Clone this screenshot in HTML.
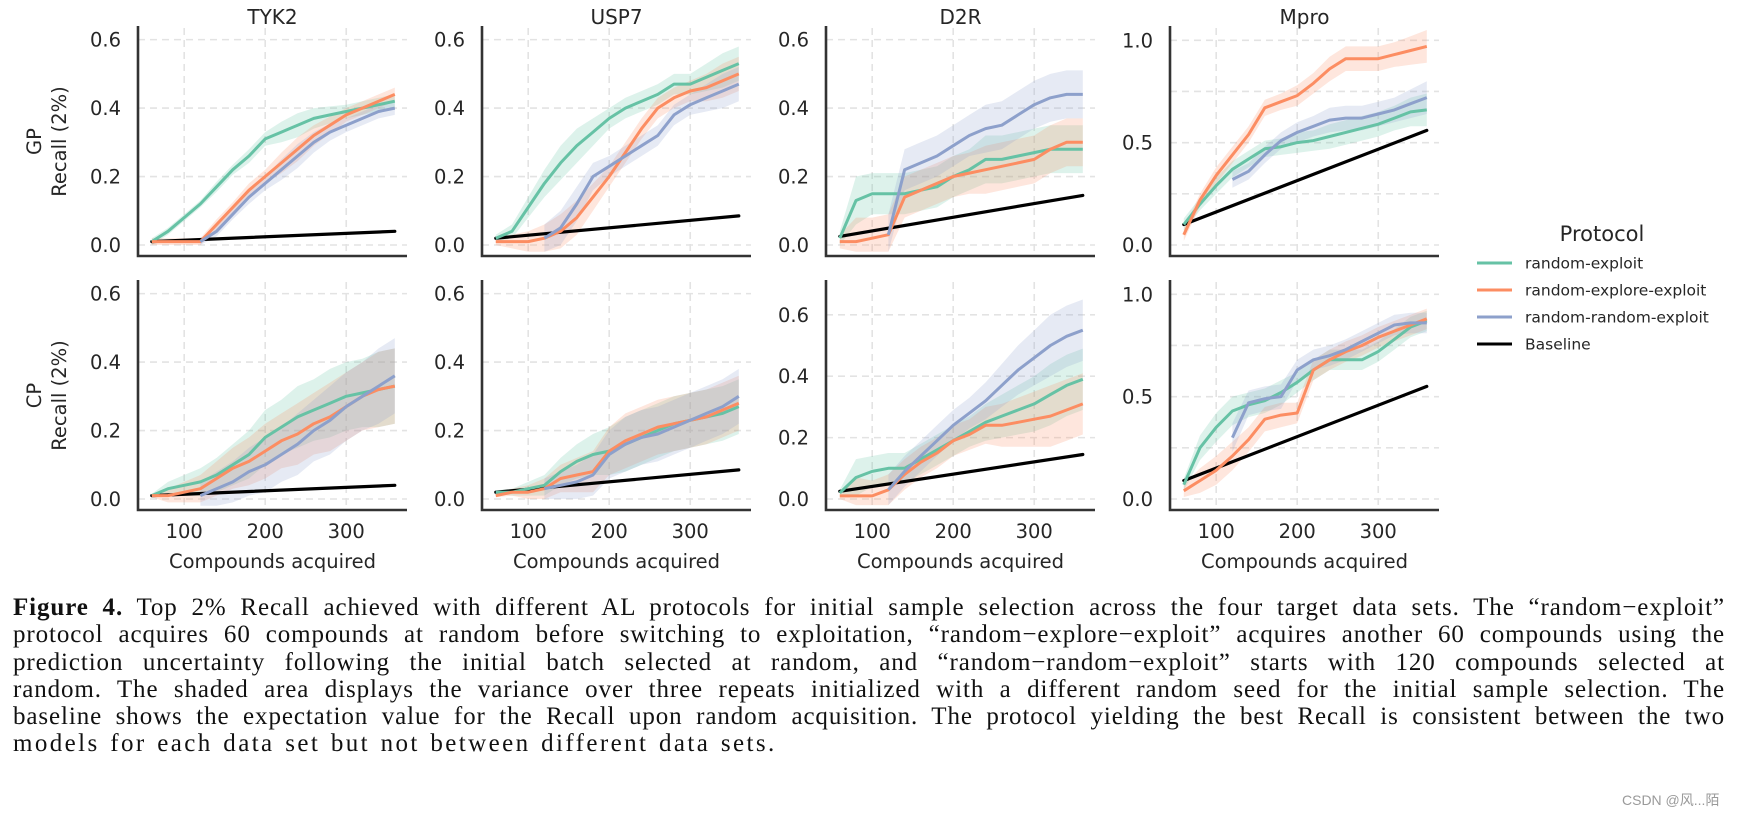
<!DOCTYPE html>
<html><head><meta charset="utf-8">
<style>
html,body{margin:0;padding:0;background:#fff;}
body{width:1740px;height:814px;position:relative;overflow:hidden;}
#chart{position:absolute;left:0;top:0;}
.cap{position:absolute;left:13px;width:1712px;font-family:"Liberation Serif",serif;font-size:25px;letter-spacing:0.9px;color:#111;white-space:nowrap;text-align:justify;text-align-last:justify;line-height:27px;}
.cap.last{text-align-last:left;letter-spacing:2.4px;word-spacing:2px;}
#wm{position:absolute;left:1622px;top:790px;font-family:"Liberation Sans","Noto Sans CJK SC",sans-serif;font-size:14px;color:#9a9a9a;}
</style></head><body>
<svg id="chart" width="1740" height="590" xmlns="http://www.w3.org/2000/svg" font-family="DejaVu Sans, sans-serif"></svg>

<div class="cap" style="top:594px"><b>Figure 4.</b> Top 2% Recall achieved with different AL protocols for initial sample selection across the four target data sets. The “random−exploit”</div>
<div class="cap" style="top:621px">protocol acquires 60 compounds at random before switching to exploitation, “random−explore−exploit” acquires another 60 compounds using the</div>
<div class="cap" style="top:649px">prediction uncertainty following the initial batch selected at random, and “random−random−exploit” starts with 120 compounds selected at</div>
<div class="cap" style="top:676px">random. The shaded area displays the variance over three repeats initialized with a different random seed for the initial sample selection. The</div>
<div class="cap" style="top:703px">baseline shows the expectation value for the Recall upon random acquisition. The protocol yielding the best Recall is consistent between the two</div>
<div class="cap last" style="top:730px">models for each data set but not between different data sets.</div>
<div id="wm">CSDN @风...陌</div>

<script>
// ---- data ----
const xs = [60,80,100,120,140,160,180,200,220,240,260,280,300,320,340,360];
const xsRR = [120,140,160,180,200,220,240,260,280,300,320,340,360];
const targets = ["TYK2","USP7","D2R","Mpro"];
const models = ["GP","CP"];
const xTicks = [100,200,300];
const yTicksSmall = [0,0.2,0.4,0.6];
const yTicksMpro = [0,0.5,1.0];
const seriesNames = ["random-exploit","random-explore-exploit","random-random-exploit","Baseline"];

// GP row
const tykGP_re  = [0.01,0.04,0.08,0.12,0.17,0.22,0.26,0.31,0.33,0.35,0.37,0.38,0.39,0.40,0.41,0.42];
const tykGP_ree = [0.01,0.01,0.01,0.01,0.06,0.11,0.16,0.20,0.24,0.28,0.32,0.35,0.38,0.40,0.42,0.44];
const tykGP_rre = [0.01,0.04,0.09,0.14,0.18,0.22,0.26,0.30,0.33,0.35,0.37,0.39,0.40];
const tykGP_sd  = [0.01,0.01,0.01,0.01,0.015,0.015,0.02,0.02,0.03,0.035,0.03,0.025,0.02,0.02,0.02,0.02];
const tykGP_base= [0.01,0.04];

const uspGP_re  = [0.02,0.04,0.11,0.18,0.24,0.29,0.33,0.37,0.40,0.42,0.44,0.47,0.47,0.49,0.51,0.53];
const uspGP_ree = [0.01,0.01,0.01,0.02,0.04,0.08,0.14,0.20,0.27,0.34,0.40,0.43,0.45,0.46,0.48,0.50];
const uspGP_rre = [0.02,0.05,0.12,0.20,0.23,0.26,0.29,0.32,0.38,0.41,0.43,0.45,0.47];
const uspGP_sd  = [0.01,0.02,0.03,0.04,0.05,0.05,0.04,0.03,0.03,0.03,0.03,0.03,0.03,0.04,0.05,0.05];
const uspGP_base= [0.02,0.085];

const d2GP_re  = [0.02,0.13,0.15,0.15,0.15,0.16,0.17,0.20,0.22,0.25,0.25,0.26,0.27,0.28,0.28,0.28];
const d2GP_ree = [0.01,0.01,0.02,0.03,0.14,0.16,0.18,0.20,0.21,0.22,0.23,0.24,0.25,0.28,0.30,0.30];
const d2GP_rre = [0.03,0.22,0.24,0.26,0.29,0.32,0.34,0.35,0.38,0.41,0.43,0.44,0.44];
const d2GP_sd  = [0.02,0.07,0.06,0.06,0.06,0.06,0.06,0.06,0.06,0.07,0.07,0.07,0.07,0.07,0.07,0.07];
const d2GP_base= [0.025,0.145];

const mpGP_re  = [0.10,0.20,0.29,0.37,0.42,0.47,0.48,0.50,0.51,0.53,0.55,0.57,0.59,0.62,0.65,0.66];
const mpGP_ree = [0.05,0.22,0.34,0.44,0.54,0.67,0.70,0.73,0.79,0.86,0.91,0.91,0.91,0.93,0.95,0.97];
const mpGP_rre = [0.32,0.36,0.44,0.51,0.55,0.58,0.61,0.62,0.62,0.64,0.66,0.69,0.72];
const mpGP_sd  = [0.03,0.03,0.04,0.04,0.04,0.04,0.04,0.05,0.05,0.06,0.06,0.06,0.06,0.06,0.07,0.08];
const mpGP_base= [0.10,0.56];

// CP row
const tykCP_re  = [0.01,0.03,0.04,0.05,0.07,0.10,0.13,0.18,0.21,0.24,0.26,0.28,0.30,0.31,0.32,0.33];
const tykCP_ree = [0.01,0.01,0.02,0.03,0.06,0.09,0.11,0.14,0.17,0.19,0.22,0.24,0.27,0.30,0.32,0.33];
const tykCP_rre = [0.01,0.03,0.05,0.08,0.10,0.13,0.16,0.20,0.23,0.27,0.30,0.33,0.36];
const tykCP_sd  = [0.005,0.02,0.03,0.04,0.05,0.06,0.07,0.08,0.08,0.09,0.09,0.10,0.10,0.10,0.11,0.11];
const tykCP_base= [0.01,0.04];

const uspCP_re  = [0.02,0.02,0.03,0.04,0.08,0.11,0.13,0.14,0.16,0.18,0.20,0.22,0.23,0.24,0.25,0.27];
const uspCP_ree = [0.01,0.02,0.02,0.03,0.06,0.07,0.08,0.14,0.17,0.19,0.21,0.22,0.23,0.24,0.26,0.28];
const uspCP_rre = [0.03,0.04,0.05,0.07,0.13,0.16,0.18,0.19,0.21,0.23,0.25,0.27,0.30];
const uspCP_sd  = [0.005,0.01,0.02,0.03,0.04,0.05,0.06,0.07,0.08,0.08,0.08,0.08,0.08,0.08,0.08,0.08];
const uspCP_base= [0.02,0.085];

const d2CP_re  = [0.02,0.07,0.09,0.10,0.10,0.13,0.16,0.19,0.22,0.25,0.27,0.29,0.31,0.34,0.37,0.39];
const d2CP_ree = [0.01,0.01,0.01,0.03,0.08,0.12,0.15,0.19,0.21,0.24,0.24,0.25,0.26,0.27,0.29,0.31];
const d2CP_rre = [0.03,0.09,0.14,0.19,0.24,0.28,0.32,0.37,0.42,0.46,0.50,0.53,0.55];
const d2CP_sd  = [0.01,0.06,0.05,0.05,0.05,0.05,0.05,0.05,0.05,0.06,0.07,0.08,0.09,0.10,0.10,0.10];
const d2CP_base= [0.025,0.145];

const mpCP_re  = [0.07,0.25,0.35,0.43,0.46,0.48,0.52,0.57,0.63,0.68,0.68,0.68,0.72,0.78,0.84,0.87];
const mpCP_ree = [0.04,0.09,0.14,0.21,0.29,0.39,0.41,0.42,0.63,0.68,0.72,0.75,0.79,0.82,0.85,0.88];
const mpCP_rre = [0.30,0.47,0.49,0.50,0.63,0.68,0.70,0.73,0.77,0.81,0.85,0.86,0.86];
const mpCP_sd  = [0.03,0.06,0.07,0.07,0.06,0.06,0.06,0.05,0.05,0.05,0.05,0.05,0.05,0.05,0.05,0.05];
const mpCP_base= [0.09,0.55];

const panelData = [
  [[tykGP_re,tykGP_ree,tykGP_rre,tykGP_sd,tykGP_base],[uspGP_re,uspGP_ree,uspGP_rre,uspGP_sd,uspGP_base],[d2GP_re,d2GP_ree,d2GP_rre,d2GP_sd,d2GP_base],[mpGP_re,mpGP_ree,mpGP_rre,mpGP_sd,mpGP_base]],
  [[tykCP_re,tykCP_ree,tykCP_rre,tykCP_sd,tykCP_base],[uspCP_re,uspCP_ree,uspCP_rre,uspCP_sd,uspCP_base],[d2CP_re,d2CP_ree,d2CP_rre,d2CP_sd,d2CP_base],[mpCP_re,mpCP_ree,mpCP_rre,mpCP_sd,mpCP_base]]
];
const panelYMax = [[0.634,0.634,0.634,1.06],[0.634,0.634,0.707,1.06]];

// ---- layout ----
const NS = "http://www.w3.org/2000/svg";
const svg = document.getElementById('chart');
const colors = ["#66c2a5","#fc8d62","#8da0cb","#000000"];
const spineX = [138,482,826,1170];
const plotW = 269;
const zeroY = [245,499];
const plotH = 217;
const XMIN = 43, XMAX = 375;

function mk(tag, attrs, parent){
  const e = document.createElementNS(NS, tag);
  for (const k in attrs) e.setAttribute(k, attrs[k]);
  (parent||svg).appendChild(e);
  return e;
}
function xScale(v, c){ return spineX[c] + (v - XMIN) / (XMAX - XMIN) * plotW; }
function yScale(v, r, c){ return zeroY[r] - v * plotH / panelYMax[r][c]; }
function linePath(xv, yv, r, c){
  return yv.map((v,i)=>(i?'L':'M')+xScale(xv[i],c).toFixed(1)+','+yScale(v,r,c).toFixed(1)).join(' ');
}
function bandPath(xv, yv, sd, r, c, off){
  let up = yv.map((v,i)=>[xScale(xv[i],c), yScale(v+sd[i+off],r,c)]);
  let lo = yv.map((v,i)=>[xScale(xv[i],c), yScale(Math.max(v-sd[i+off],-0.02),r,c)]).reverse();
  return 'M'+up.concat(lo).map(p=>p[0].toFixed(1)+','+p[1].toFixed(1)).join(' L')+' Z';
}

for (let r=0;r<2;r++){
  for (let c=0;c<4;c++){
    const g = mk('g',{});
    
    
    const x0 = spineX[c], x1 = x0 + plotW;
    const yTop = zeroY[r] - plotH, yBot = zeroY[r] + 11;
    const ticks = c===3 ? yTicksMpro : yTicksSmall;
    const gridVals = c===3 ? [0,0.25,0.5,0.75,1.0] : ticks;
    gridVals.forEach(v=>{
      const y = yScale(v,r,c);
      const gl = mk('line',{x1:x0,x2:x1,y1:y,y2:y,stroke:'#e3e3e3','stroke-width':1.6,'stroke-dasharray':'7,5'},g);
      
      
    });
    xTicks.forEach(v=>{
      const x = xScale(v,c);
      const gl = mk('line',{x1:x,x2:x,y1:yTop,y2:yBot,stroke:'#e3e3e3','stroke-width':1.6,'stroke-dasharray':'7,5'},g);
      
      
    });
    const d = panelData[r][c];
    const sd = d[3];
    const bands = [[xs,d[0],0],[xs,d[1],0],[xsRR,d[2],3]];
    bands.forEach((b,i)=>{
      const p = mk('path',{d:bandPath(b[0],b[1],sd,r,c,b[2]),fill:colors[i],'fill-opacity':0.22,stroke:'none'},g);
      
      
    });
    const bl = mk('path',{d:linePath([60,360],d[4],r,c),stroke:'#000',fill:'none','stroke-width':3.2,'stroke-linecap':'round'},g);
    
    
    [[xs,d[0]],[xs,d[1]],[xsRR,d[2]]].forEach((s,i)=>{
      const p = mk('path',{d:linePath(s[0],s[1],r,c),stroke:colors[i],fill:'none','stroke-width':3,'stroke-linejoin':'round'},g);
      
      
    });
    const sp = mk('path',{d:`M${x0},${yTop-2} L${x0},${yBot} L${x1},${yBot}`,stroke:'#333',fill:'none','stroke-width':2.6},g);
    
    
    ticks.forEach(v=>{
      const t = mk('text',{x:x0-17,y:yScale(v,r,c)+7,'text-anchor':'end','font-size':19.5,fill:'#262626'},g);
      t.textContent = v.toFixed(1);
      
      
    });
    if (r===1){
      xTicks.forEach(v=>{
        const t = mk('text',{x:xScale(v,c),y:538,'text-anchor':'middle','font-size':19.5,fill:'#262626'},g);
        t.textContent = String(v);
        
        
      });
      const xl = mk('text',{x:x0+plotW/2,y:568,'text-anchor':'middle','font-size':19.5,fill:'#262626'},g);
      xl.textContent = 'Compounds acquired';
      
      
    } else {
      const tt = mk('text',{x:x0+plotW/2,y:24,'text-anchor':'middle','font-size':20,fill:'#262626'},g);
      tt.textContent = targets[c];
      
      
    }
    if (c===0){
      const cy = zeroY[r] - plotH/2 + 5;
      const m = mk('text',{x:0,y:0,'text-anchor':'middle','font-size':19.5,fill:'#262626',transform:`translate(41,${cy}) rotate(-90)`},g);
      m.textContent = models[r];
      
      
      const yl = mk('text',{x:0,y:0,'text-anchor':'middle','font-size':19.5,fill:'#262626',transform:`translate(66,${cy}) rotate(-90)`},g);
      yl.textContent = 'Recall (2%)';
      
      
    }
  }
}

const lg = mk('g',{});


const lt = mk('text',{x:1602,y:241,'text-anchor':'middle','font-size':21,fill:'#262626'},lg);
lt.textContent = 'Protocol';


seriesNames.forEach((n,i)=>{
  const y = 263 + i*27;
  const e = mk('g',{},lg);
  
  
  mk('line',{x1:1477,x2:1512,y1:y,y2:y,stroke:colors[i],'stroke-width':3},e);
  const t = mk('text',{x:1525,y:y+5.5,'font-size':15.5,fill:'#262626'},e);
  t.textContent = n;
});
</script>
</body></html>
